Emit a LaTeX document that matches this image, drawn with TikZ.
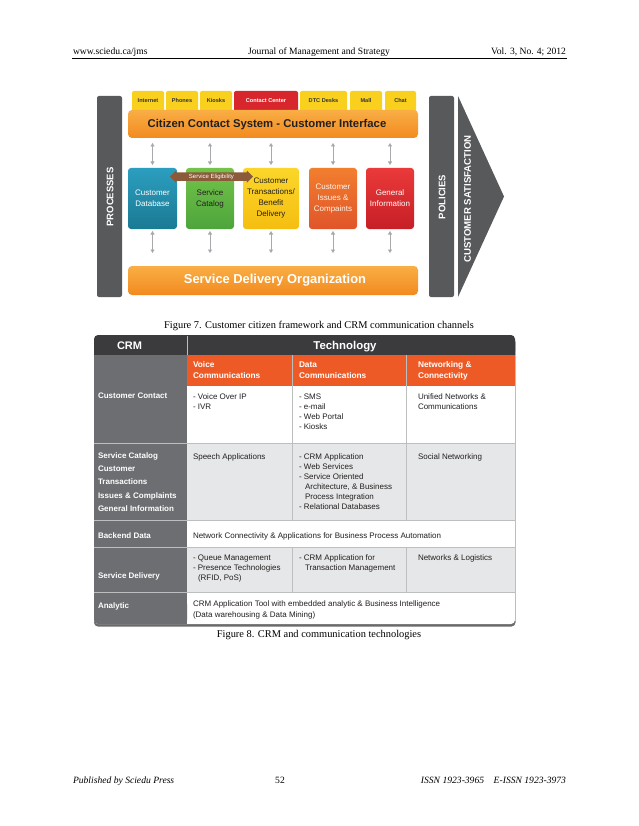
\documentclass[tikz,border=0pt]{standalone}
\usepackage{fontspec}
\setmainfont{Liberation Serif}
\setsansfont{Liberation Sans}
\usetikzlibrary{arrows.meta,shapes.arrows}
\newcommand\fsz[1]{\fontsize{#1}{#1}\selectfont}
\definecolor{darkbar}{HTML}{58595B}
\definecolor{tabyel}{HTML}{F9D01E}
\definecolor{tabred}{HTML}{D7262C}
\definecolor{barA}{HTML}{F9AE45}
\definecolor{barB}{HTML}{F28A1F}
\definecolor{tealA}{HTML}{2C9EBF}
\definecolor{tealB}{HTML}{1A7A93}
\definecolor{greenA}{HTML}{74C34A}
\definecolor{greenB}{HTML}{4DA53B}
\definecolor{yelA}{HTML}{FBD62A}
\definecolor{yelB}{HTML}{F5BE10}
\definecolor{orA}{HTML}{F27E2E}
\definecolor{orB}{HTML}{E0552A}
\definecolor{redA}{HTML}{EA3A3A}
\definecolor{redB}{HTML}{C61F26}
\definecolor{eligbrown}{HTML}{8A5A3A}
\definecolor{arrowgray}{HTML}{A7A9AC}
\definecolor{hdrdark}{HTML}{3B3B3D}
\definecolor{tborange}{HTML}{EE5A25}
\definecolor{leftgray}{HTML}{6D6E71}
\definecolor{rowgray}{HTML}{E6E7E8}
\definecolor{gridgray}{HTML}{BCBEC0}
\definecolor{textdark}{HTML}{231F20}
\definecolor{shadowgray}{HTML}{6A6A6C}
\begin{document}
\begin{tikzpicture}[x=1pt,y=-1pt,
 every node/.style={inner sep=0pt,outer sep=0pt},
 hdr/.style={font=\fsz{9.6}},
 capt/.style={font=\fsz{10.4}},
 sidebar/.style={fill=darkbar,rounded corners=2pt},
 sidetxt/.style={font=\sffamily\bfseries\fsz{9.5},text=white,rotate=90},
 tabbg/.style={fill=tabyel,rounded corners=2pt},
 tabtxt/.style={font=\sffamily\bfseries\fsz{5.6},text=black!80},
 bigbar/.style={top color=barA,bottom color=barB,rounded corners=4pt,minimum height=28pt},
 midbox/.style={rounded corners=3pt,minimum height=61pt,align=center,font={\sffamily\fontsize{8}{11}\selectfont}},
 garrow/.style={draw=arrowgray,line width=0.9pt,{Triangle[length=3.5pt,width=4pt]}-{Triangle[length=3.5pt,width=4pt]}},
 tb/.style={font=\sffamily\fsz{8},anchor=base west,text=textdark},
 tl/.style={font=\sffamily\bfseries\fsz{8},anchor=base west,text=white},
 toh/.style={font=\sffamily\bfseries\fsz{8.3},anchor=base west,text=white},
 gridline/.style={draw=gridgray,line width=0.6pt}
]
\useasboundingbox[fill=white] (0,0) rectangle (638,826);

% ---------- page header ----------
\node[hdr,anchor=base west] (hl) at (73,55) {www.sciedu.ca/jms};
\node[hdr,anchor=base] (hc) at (319,55) {Journal of Management and Strategy};
\node[hdr,anchor=base east] (hr) at (566,55) {Vol. 3, No. 4; 2012};
\draw[line width=0.6pt] (72,58.5) -- (567,58.5);

% ---------- Figure 7 ----------
\node[sidebar,minimum width=25pt,minimum height=201pt] (proc) at (109.5,196.5) {};
\node[sidetxt] (proct) at (110,197) {PROCESSES};

\path[tabbg] (132,91) rectangle (164,116);
\path[tabbg] (166,91) rectangle (198,116);
\path[tabbg] (200,91) rectangle (232,116);
\path[tabbg,fill=tabred] (234,91) rectangle (298,116);
\path[tabbg] (300,91) rectangle (347,116);
\path[tabbg] (350,91) rectangle (382,116);
\path[tabbg] (385,91) rectangle (416,116);
\node[tabtxt] (t1) at (148,101) {Internet};
\node[tabtxt] (t2) at (182,101) {Phones};
\node[tabtxt] (t3) at (216,101) {Kiosks};
\node[tabtxt,text=white] (t4) at (266,101) {Contact Center};
\node[tabtxt] (t5) at (323.5,101) {DTC Desks};
\node[tabtxt] (t6) at (366,101) {Mall};
\node[tabtxt] (t7) at (400.5,101) {Chat};

\node[bigbar,minimum width=290pt] (topbar) at (273,124) {};
\node[font=\sffamily\bfseries\fsz{11.3},text=textdark] (topt) at (267,124.5) {Citizen Contact System - Customer Interface};

\node[midbox,minimum width=49pt,top color=tealA,bottom color=tealB,text=white] (b1) at (152.5,198.5) {Customer\\Database};
\node[midbox,minimum width=48pt,top color=greenA,bottom color=greenB,text=textdark] (b2) at (210,198.5) {Service\\Catalog};
\node[midbox,minimum width=56pt,top color=yelA,bottom color=yelB,text=textdark] (b3) at (271,198.5) {Customer\\Transactions/\\Benefit\\Delivery};
\node[midbox,minimum width=48pt,top color=orA,bottom color=orB,text=white!92!orange] (b4) at (333,198.5) {Customer\\Issues \&\\Compaints};
\node[midbox,minimum width=48pt,top color=redA,bottom color=redB,text=white] (b5) at (390,198.5) {General\\Information};

\node[bigbar,minimum width=290pt,minimum height=29pt,font=\sffamily\bfseries\fsz{12.9},text=white] (botbar) at (273,280.5) {\hspace{4pt}Service Delivery Organization};

\foreach \b in {b1,b2,b3,b4,b5}{
  \draw[garrow,shorten <=5pt,shorten >=3pt] (topbar.south -| \b.north) -- (\b.north);
  \draw[garrow,shorten <=2pt,shorten >=13pt] (\b.south) -- (\b.south |- botbar.north);
}

\node[double arrow,fill=eligbrown,minimum height=83pt,minimum width=12pt,double arrow head extend=1.8pt,inner sep=1.3pt,font=\sffamily\fsz{6},text=white] (elig) at (211.5,176.7) {Service Eligibility};

\node[sidebar,minimum width=25pt,minimum height=201pt] (pol) at (441.5,196.5) {};
\node[sidetxt] (polt) at (442,197) {POLICIES};

\path[fill=darkbar] (458,96) -- (504,196.5) -- (458,297) -- cycle;
\node[sidetxt,font=\sffamily\bfseries\fsz{9.6}] (cst) at (467.5,199) {CUSTOMER SATISFACTION};

\node[capt,anchor=base] (c7) at (319,328) {Figure 7. Customer citizen framework and CRM communication channels};

% ---------- Figure 8 table ----------
\fill[shadowgray,rounded corners=4pt] (94,338) rectangle (515.5,626.5);
\fill[white,rounded corners=4pt] (94,335) rectangle (515,624);
\fill[hdrdark,rounded corners=4pt] (94,335) rectangle (515,355);
\fill[hdrdark] (94,345) rectangle (515,355);
\fill[tborange] (187,355) rectangle (515,386);
\fill[leftgray] (94,355) rectangle (187,612);
\fill[leftgray,rounded corners=4pt] (94,600) rectangle (187,624);
\fill[leftgray] (150,600) rectangle (187,624);
\fill[rowgray] (187,443) rectangle (515,520);
\fill[rowgray] (187,547) rectangle (515,592);
% grid
\draw[gridline] (94,443) -- (515,443);
\draw[gridline] (94,520) -- (515,520);
\draw[gridline] (94,547) -- (515,547);
\draw[gridline] (94,592) -- (515,592);
\draw[gridline] (292,355) -- (292,520);
\draw[gridline] (406,355) -- (406,520);
\draw[gridline] (292,547) -- (292,592);
\draw[gridline] (406,547) -- (406,592);
\draw[gridline] (187,336) -- (187,355);
\draw[gridline] (515,355) -- (515,621);

\node[font=\sffamily\bfseries\fsz{11},text=white,anchor=base west] (crm) at (117,349) {CRM};
\node[font=\sffamily\bfseries\fsz{11.4},text=white,anchor=base] (tech) at (345,349) {Technology};

\node[toh] (o1) at (193,367.5) {Voice};
\node[toh] (o2) at (193,378.5) {Communications};
\node[toh] (o3) at (299,367.5) {Data};
\node[toh] (o4) at (299,378.5) {Communications};
\node[toh] (o5) at (418,367.5) {Networking \&};
\node[toh] (o6) at (418,378.5) {Connectivity};

\node[tl] (lc1) at (98,398) {Customer Contact};
\node[tb] (v1) at (193,399) {- Voice Over IP};
\node[tb] (v2) at (193,409) {- IVR};
\node[tb] (d1) at (299,399) {- SMS};
\node[tb] (d2) at (299,409) {- e-mail};
\node[tb] (d3) at (299,419) {- Web Portal};
\node[tb] (d4) at (299,429) {- Kiosks};
\node[tb] (n1) at (418,399) {Unified Networks \&};
\node[tb] (n2) at (418,409.5) {Communications};

\node[tl] (lc2) at (98,458) {Service Catalog};
\node[tl] (lc3) at (98,471.3) {Customer};
\node[tl] (lc4) at (98,484.7) {Transactions};
\node[tl] (lc5) at (98,498) {Issues \& Complaints};
\node[tl] (lc6) at (98,511.3) {General Information};
\node[tb] (v3) at (193,459) {Speech Applications};
\node[tb] (d5) at (299,459) {- CRM Application};
\node[tb] (d6) at (299,469) {- Web Services};
\node[tb] (d7) at (299,479) {- Service Oriented};
\node[tb] (d8) at (305,489) {Architecture, \& Business};
\node[tb] (d9) at (305,499) {Process Integration};
\node[tb] (d10) at (299,509) {- Relational Databases};
\node[tb] (n3) at (418,459) {Social Networking};

\node[tl] (lc7) at (98,538) {Backend Data};
\node[tb] (w1) at (193,538) {Network Connectivity \& Applications for Business Process Automation};

\node[tl] (lc8) at (98,578) {Service Delivery};
\node[tb] (v4) at (193,560) {- Queue Management};
\node[tb] (v5) at (193,570) {- Presence Technologies};
\node[tb] (v6) at (198,580) {(RFID, PoS)};
\node[tb] (d11) at (299,560) {- CRM Application for};
\node[tb] (d12) at (305,570) {Transaction Management};
\node[tb] (n4) at (418,560) {Networks \& Logistics};

\node[tl] (lc9) at (98,608) {Analytic};
\node[tb] (w2) at (193,606) {CRM Application Tool with embedded analytic \& Business Intelligence};
\node[tb] (w3) at (193,617) {(Data warehousing \& Data Mining)};

\node[capt,anchor=base] (c8) at (319,637) {Figure 8. CRM and communication technologies};

% ---------- footer ----------
\node[hdr,anchor=base west,font=\fsz{9.6}\itshape] (fl) at (73,783) {Published by Sciedu Press};
\node[hdr,anchor=base] (fc) at (280,783) {52};
\node[hdr,anchor=base east,font=\fsz{9.6}\itshape] (fr) at (566,783) {ISSN 1923-3965\quad E-ISSN 1923-3973};
\end{tikzpicture}
\end{document}
